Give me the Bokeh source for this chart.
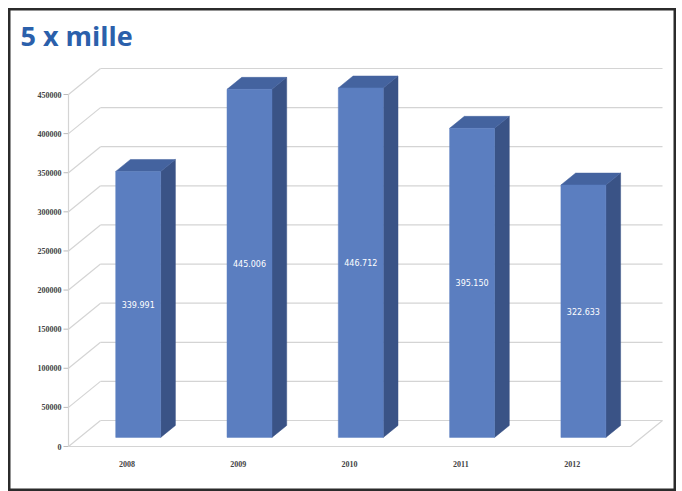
from bokeh.plotting import figure
from bokeh.models import Range1d, Label, ColumnDataSource
from bokeh.core.properties import value
from bokeh.embed import file_html
from bokeh.resources import INLINE

# ---- data ----
years = ["2008", "2009", "2010", "2011", "2012"]
amounts = [339991, 445006, 446712, 395150, 322633]
amount_labels = ["339.991", "445.006", "446.712", "395.150", "322.633"]
y_ticks = [0, 50000, 100000, 150000, 200000, 250000, 300000, 350000, 400000, 450000]
title_text = "5 x mille"

# ---- geometry (3D projection in data units) ----
W, H = 668, 483
PX_X = 111.3            # px per category
PX_Y = 450000 / 352.0   # value per px
X0_PAGE = 126.5         # page x of first category (front plane)
Y0_PAGE = 446.0         # page y of value 0 (front plane)
DX = 32 / PX_X          # depth shift in x units
DY = 26 * PX_Y          # depth shift in value units

def xr(px):
    return (px - X0_PAGE) / PX_X

def yr(py):
    return (Y0_PAGE - py) * PX_Y

p = figure(width=W, height=H, output_backend="svg", toolbar_location=None,
           x_axis_type=None, y_axis_type=None, min_border=0,
           x_range=Range1d(xr(8), xr(8 + W)), y_range=Range1d(yr(8 + H), yr(8)))
p.margin = (8, 0, 0, 8)
p.background_fill_color = "white"
p.border_fill_color = "white"
p.outline_line_color = "#2b2b2b"
p.outline_line_width = 4

def P(x, y, z):
    return x + z * DX, y + z * DY

grid_col = "#d4d4d4"
xl, xrgt = xr(68), xr(630)

# back wall gridlines and side wall gridlines
for t in y_ticks:
    a = P(xl, t, 1.0)
    b = P(xrgt, t, 1.0)
    p.line([a[0], b[0]], [a[1], b[1]], line_color=grid_col, line_width=1.2)
    c = P(xl, t, 0.0)
    p.line([c[0], a[0]], [c[1], a[1]], line_color=grid_col, line_width=1.2)
    # tick mark
    p.line([c[0] - 5 / PX_X, c[0]], [c[1], c[1]], line_color="#bbbbbb", line_width=1)

# floor edges
f0 = P(xl, 0, 0); f1 = P(xrgt, 0, 0); f2 = P(xrgt, 0, 1.0)
p.line([f0[0], f1[0], f2[0]], [f0[1], f1[1], f2[1]], line_color=grid_col, line_width=1.2)
# vertical axis line
p.line([f0[0], f0[0]], [0, y_ticks[-1]], line_color=grid_col, line_width=1.2)

# bars
hw, z0, z1 = 0.202, 0.35, 0.81
front_xs, front_ys, side_xs, side_ys, top_xs, top_ys = [], [], [], [], [], []
for i, v in enumerate(amounts):
    pts = [P(i - hw, 0, z0), P(i + hw, 0, z0), P(i + hw, v, z0), P(i - hw, v, z0)]
    front_xs.append([q[0] for q in pts]); front_ys.append([q[1] for q in pts])
    pts = [P(i + hw, 0, z0), P(i + hw, 0, z1), P(i + hw, v, z1), P(i + hw, v, z0)]
    side_xs.append([q[0] for q in pts]); side_ys.append([q[1] for q in pts])
    pts = [P(i - hw, v, z0), P(i + hw, v, z0), P(i + hw, v, z1), P(i - hw, v, z1)]
    top_xs.append([q[0] for q in pts]); top_ys.append([q[1] for q in pts])

p.patches(side_xs, side_ys, fill_color="#3a5386", line_color="#3a5386", line_width=0.5)
p.patches(top_xs, top_ys, fill_color="#44639f", line_color="#44639f", line_width=0.5)
p.patches(front_xs, front_ys, fill_color="#5b7ec0", line_color="#5b7ec0", line_width=0.5)

# value labels in the bars
src = ColumnDataSource(dict(
    x=[i + z0 * DX for i in range(len(amounts))],
    y=[v / 2 + z0 * DY for v in amounts],
    t=amount_labels))
p.text(x="x", y="y", text="t", source=src, text_color="white",
       text_font=value("DejaVu Sans"), text_font_size="8px",
       text_align="center", text_baseline="middle")

# y tick labels
ysrc = ColumnDataSource(dict(x=[xr(61)] * len(y_ticks), y=y_ticks,
                             t=[str(t) for t in y_ticks]))
p.text(x="x", y="y", text="t", source=ysrc, text_color="#444444",
       text_font=value("Liberation Serif"), text_font_size="8px", text_font_style="bold",
       text_align="right", text_baseline="middle")

# x tick labels
xsrc = ColumnDataSource(dict(x=list(range(len(years))), y=[yr(463)] * len(years), t=years))
p.text(x="x", y="y", text="t", source=xsrc, text_color="#444444",
       text_font=value("Liberation Serif"), text_font_size="8px", text_font_style="bold",
       text_align="center", text_baseline="middle")

# title
p.add_layout(Label(x=12, y=H - 8, x_units="screen", y_units="screen", text=title_text,
                   text_font="Open Sans", text_font_style="bold", text_font_size="27px",
                   text_color="#2b60ab", text_baseline="top", text_align="left"))

open("out.html", "w").write(file_html(p, INLINE))
